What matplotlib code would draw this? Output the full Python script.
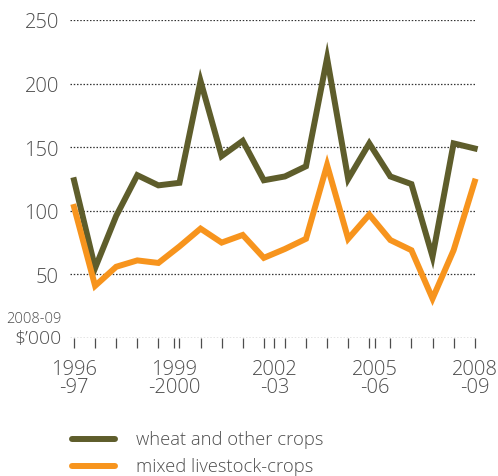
import numpy as np
import matplotlib
matplotlib.use("Agg")
import matplotlib.pyplot as plt

# values, $'000 (2008-09 dollars)
wheat = [124, 55, 96, 128, 120, 122, 202, 143, 155, 124,
         127, 135, 220, 125, 153, 127, 121, 64, 153, 149]
mixed = [103, 41, 56, 61, 59, 72, 86, 75, 81, 63,
         70, 78, 136, 78, 97, 77, 69, 31, 69, 123]
year_ticks = [1996, 1999, 2002, 2005, 2008]
year_labels = ["1996\n-97", "1999\n-2000", "2002\n-03", "2005\n-06", "2008\n-09"]
y_ticks = [50, 100, 150, 200, 250]

olive = "#5e5d2b"
orange = "#f7941d"
grey = "#4d4d4d"

plt.rcParams["font.family"] = ["Open Sans", "DejaVu Sans"]
plt.rcParams["font.weight"] = 300

fig = plt.figure(figsize=(4.98, 4.77), dpi=100)
ax = fig.add_axes([0.1406, 0.2893, 0.8153, 0.6667])

x = np.linspace(1996, 2008, len(wheat))

for v in [0] + y_ticks:
    ax.axhline(v, color="#333333", lw=0.9, ls=(0, (1.2, 1.4)), zorder=1)

ax.plot(x, wheat, color=olive, lw=4.3, solid_joinstyle="miter", zorder=3, clip_on=False)
ax.plot(x, mixed, color=orange, lw=4.3, solid_joinstyle="miter", zorder=3, clip_on=False)

ax.set_xlim(1995.88, 2008.04)
ax.set_ylim(0, 250)
for s in ax.spines.values():
    s.set_visible(False)

ax.set_yticks(y_ticks)
ax.set_yticklabels([str(t) for t in y_ticks])
ax.tick_params(axis="y", length=0, pad=8, labelsize=14.5, labelcolor=grey)

# small ticks at each data point, labels every third year
ax.set_xticks(x, minor=True)
ax.set_xticks(year_ticks)
ax.set_xticklabels(year_labels, linespacing=0.85)
ax.tick_params(axis="x", which="both", length=7, width=0.9, color=grey, direction="out")
ax.tick_params(axis="x", which="major", pad=8, labelsize=14.5, labelcolor=grey)

ax.text(-0.02, 0.0, "$\u2019000", transform=ax.transAxes, ha="right", va="center",
        fontsize=14, color=grey)
ax.text(-0.02, 0.06, "2008-09", transform=ax.transAxes, ha="right", va="center",
        fontsize=10.5, color=grey)

# legend
fig.add_artist(plt.Line2D([72 / 498, 115 / 498], [1 - 440 / 477] * 2, color=olive,
                          lw=4.3, solid_capstyle="round"))
fig.add_artist(plt.Line2D([72 / 498, 115 / 498], [1 - 467 / 477] * 2, color=orange,
                          lw=4.3, solid_capstyle="round"))
fig.text(136 / 498, 1 - 440 / 477, "wheat and other crops", va="center", fontsize=13.2, color=grey)
fig.text(136 / 498, 1 - 467 / 477, "mixed livestock-crops", va="center", fontsize=13.2, color=grey)

fig.savefig("out.png", dpi=100)
